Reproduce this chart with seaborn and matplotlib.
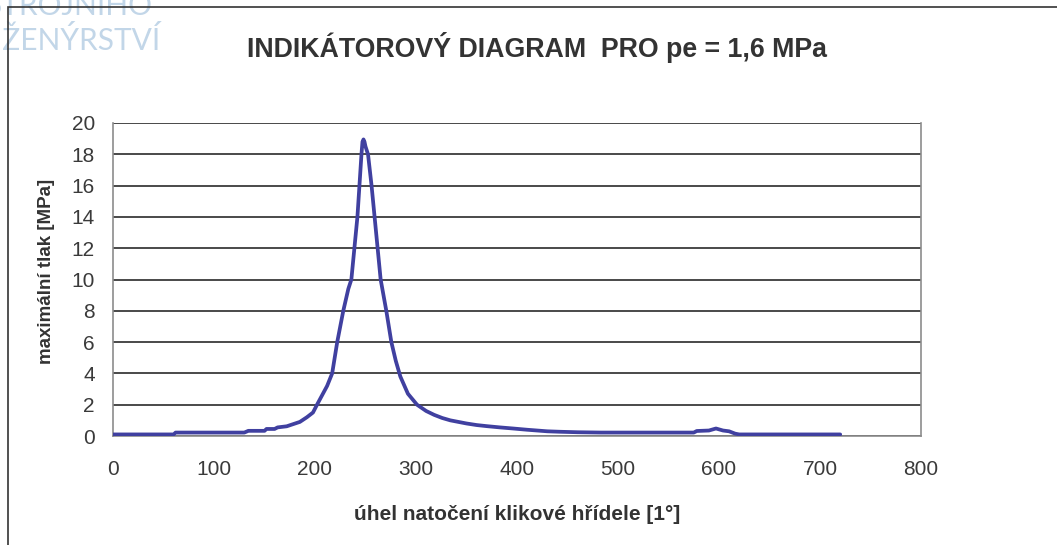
import matplotlib
matplotlib.use("Agg")
import matplotlib.pyplot as plt
import seaborn as sns
import pandas as pd
from matplotlib.patches import Rectangle

# uhel natoceni [deg] a tlak [MPa]
uhel = [0, 60, 62, 130, 134, 150, 152, 160, 163, 172, 178, 185, 192, 198, 202,
        207, 212, 217, 222, 228, 233, 236, 239, 242, 244, 246, 247, 248, 249,
        250, 252.5, 256, 259, 262, 265, 270.6, 275.6, 280, 284.5, 292, 301, 310,
        318, 326, 334, 342, 350, 360, 370, 383, 396, 410, 416, 430, 443, 460,
        483, 575, 578, 590, 597, 604, 610, 616, 620, 720]
tlak = [0.1, 0.1, 0.22, 0.22, 0.33, 0.33, 0.45, 0.45, 0.55, 0.62, 0.75, 0.9,
        1.2, 1.5, 2.0, 2.6, 3.2, 4.0, 6.0, 8.0, 9.4, 10.0, 12.0, 14.0, 16.0,
        18.0, 18.8, 18.95, 18.8, 18.5, 18.0, 16.0, 14.0, 12.0, 10.0, 8.0, 6.0,
        4.8, 3.8, 2.7, 2.0, 1.6, 1.35, 1.15, 1.0, 0.9, 0.8, 0.7, 0.63, 0.55,
        0.48, 0.4, 0.37, 0.3, 0.27, 0.24, 0.22, 0.22, 0.32, 0.35, 0.48, 0.35,
        0.3, 0.15, 0.1, 0.1]

x_ticks = [0, 100, 200, 300, 400, 500, 600, 700, 800]
y_ticks = [0, 2, 4, 6, 8, 10, 12, 14, 16, 18, 20]

df = pd.DataFrame({"uhel": uhel, "tlak": tlak})

sns.set_style("white")
plt.rcParams['font.family'] = ['Liberation Sans', 'DejaVu Sans']

fig = plt.figure(figsize=(10.57, 5.45), dpi=100)
ax = fig.add_axes([113/1057, 1-436/545, (921-113)/1057, (436-123)/545])

# vodoznak (oriznuty jako v originale) a ramecek grafu
wm = dict(fontsize=21.5, color="#c2d6e8", family=["Lato", "DejaVu Sans"],
          fontweight="normal", ha="right", va="baseline", zorder=0)
fig.text(152/1057, 1-15/545, "STROJNÍHO", **wm)
fig.text(160/1057, 1-50/545, "INŽENÝRSTVÍ", **wm)
fig.patches.append(Rectangle((8/1057, -0.1), 1.2, 1-7/545+0.1,
                             transform=fig.transFigure, fill=False,
                             edgecolor="#333333", linewidth=1.2))

sns.lineplot(data=df, x="uhel", y="tlak", ax=ax, color="#4040a0",
             linewidth=2.7, zorder=3)

ax.set_xlim(0, 800)
ax.set_ylim(0, 20)
ax.set_xticks(x_ticks)
ax.set_yticks(y_ticks)
ax.yaxis.grid(True, color="#3a3a3a", linewidth=1.3)
ax.xaxis.grid(False)
ax.set_facecolor("none")

for s in ["left", "bottom", "right"]:
    ax.spines[s].set_color("#8c8c8c")
    ax.spines[s].set_linewidth(1.2)
ax.spines["top"].set_visible(False)

ax.tick_params(axis="both", direction="out", length=5, width=1.1,
               color="#8c8c8c", labelcolor="#3a3a3a", labelsize=15)
ax.tick_params(axis="x", pad=12)
ax.tick_params(axis="y", pad=8)

ax.set_xlabel("úhel natočení klikové hřídele [1°]", fontsize=15,
              fontweight="bold", color="#333333", labelpad=19)
ax.set_ylabel("maximální tlak [MPa]", fontsize=13.5, fontweight="bold",
              color="#333333")
ax.yaxis.set_label_coords(-0.072, 0.527)
fig.text(537/1057, 1-47/545, "INDIKÁTOROVÝ DIAGRAM  PRO pe = 1,6 MPa",
         fontsize=19.3, fontweight="bold", color="#333333", ha="center",
         va="center")

fig.savefig("out.png", dpi=100)
